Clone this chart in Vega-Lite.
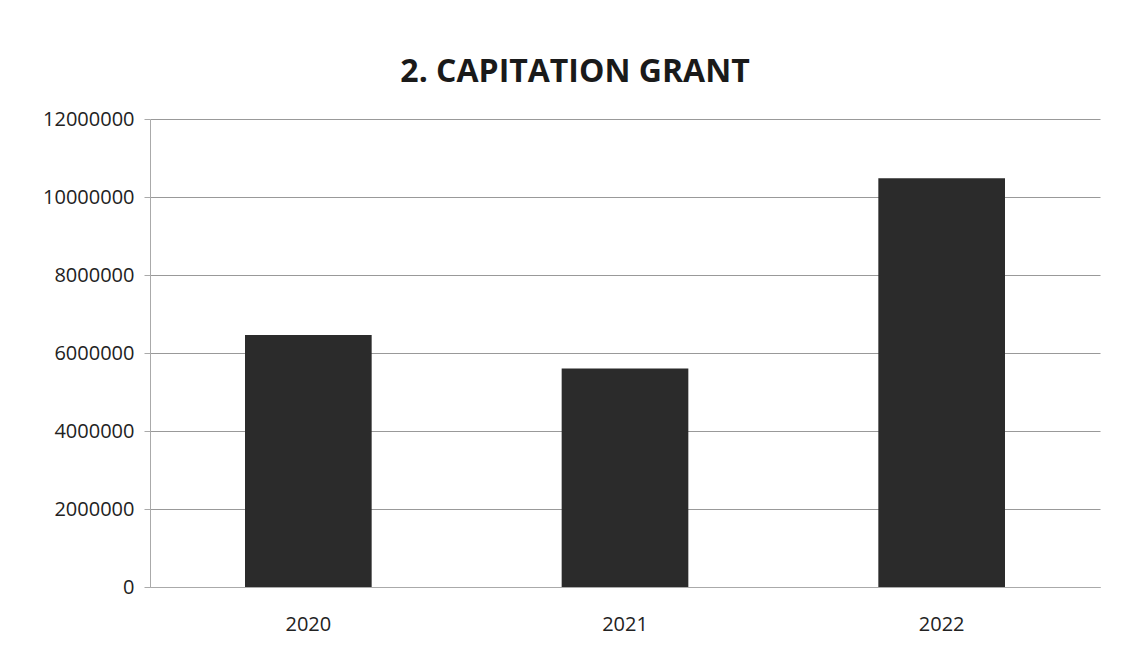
{
  "$schema": "https://vega.github.io/schema/vega-lite/v6.json",
  "autosize": {"type": "none"},
  "padding": {"left": 150, "top": 119, "right": 21, "bottom": 65},
  "width": 950,
  "height": 468,
  "background": "white",
  "title": {
    "text": "2. CAPITATION GRANT",
    "font": "Open Sans",
    "fontSize": 32,
    "fontWeight": "bold",
    "color": "#1a1a1a",
    "anchor": "middle",
    "dx": -50,
    "offset": 20
  },
  "data": {
    "values": [
      {"year": "2020", "amount": 6460000},
      {"year": "2021", "amount": 5600000},
      {"year": "2022", "amount": 10480000}
    ]
  },
  "mark": {"type": "bar", "color": "#2b2b2b"},
  "encoding": {
    "x": {
      "field": "year",
      "type": "nominal",
      "scale": {"paddingInner": 0.6, "paddingOuter": 0.3},
      "axis": {
        "title": null,
        "labelAngle": 0,
        "labelFont": "Open Sans",
        "labelFontSize": 20,
        "labelColor": "#222",
        "labelPadding": 27,
        "domainColor": "#aaa",
        "ticks": false
      }
    },
    "y": {
      "field": "amount",
      "type": "quantitative",
      "scale": {"domain": [0, 12000000]},
      "axis": {
        "title": null,
        "values": [0, 2000000, 4000000, 6000000, 8000000, 10000000, 12000000],
        "format": "d",
        "labelFont": "Open Sans",
        "labelFontSize": 20,
        "labelColor": "#222",
        "labelPadding": 10,
        "gridColor": "#999",
        "gridWidth": 1,
        "domainColor": "#aaa",
        "tickColor": "#aaa",
        "tickSize": 6
      }
    }
  },
  "config": {"view": {"stroke": null}}
}
